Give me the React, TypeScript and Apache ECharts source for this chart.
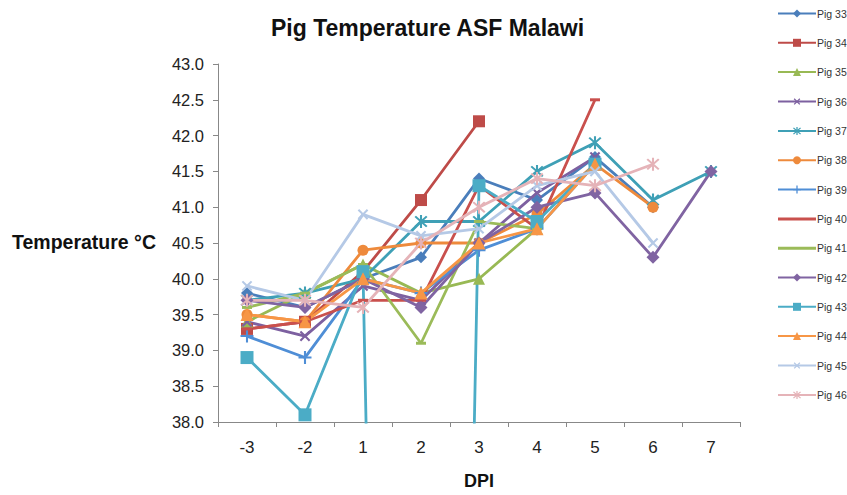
import React, { useEffect, useRef } from "react";
import * as echarts from "echarts";

const categories = ["-3", "-2", "1", "2", "3", "4", "5", "6", "7"];
const seriesNames = ["Pig 33", "Pig 34", "Pig 35", "Pig 36", "Pig 37", "Pig 38", "Pig 39", "Pig 40", "Pig 41", "Pig 42", "Pig 43", "Pig 44", "Pig 45", "Pig 46"];

const pig33 = [39.8, 39.6, 40.0, 40.3, 41.4, 41.1, 41.7, 41.0, null];
const pig34 = [39.3, 39.4, 40.1, 41.1, 42.2, null, null, null, null];
const pig35 = [39.4, 39.8, 40.2, 39.8, 40.0, 40.7, null, null, null];
const pig36 = [39.4, 39.2, 39.9, 39.7, 40.5, 41.2, 41.7, null, null];
const pig37 = [39.7, 39.8, 40.0, 40.8, 40.8, 41.5, 41.9, 41.1, 41.5];
const pig38 = [39.5, 39.4, 40.4, 40.5, 40.5, 40.9, 41.6, 41.0, null];
const pig39 = [39.2, 38.9, 40.0, 39.8, 40.4, 40.7, 41.6, null, null];
const pig40 = [39.3, 39.4, 39.7, 39.7, 41.3, 40.7, 42.5, null, null];
const pig41 = [39.6, 39.8, 40.2, 39.1, 40.8, 40.7, null, null, null];
const pig42 = [39.7, 39.6, 40.0, 39.6, 40.5, 41.0, 41.2, 40.3, 41.5];
const pig43 = [38.9, 38.1, 40.1, 0, 41.3, 40.8, 41.6, null, null];
const pig44 = [39.5, 39.4, 40.0, 39.8, 40.5, 40.7, 41.6, null, null];
const pig45 = [39.9, 39.7, 40.9, 40.6, 40.7, 41.3, 41.5, 40.5, null];
const pig46 = [39.7, 39.7, 39.6, 40.5, 41.0, 41.4, 41.3, 41.6, null];

const allData = [pig33, pig34, pig35, pig36, pig37, pig38, pig39, pig40, pig41, pig42, pig43, pig44, pig45, pig46];

const colors = ["#4A7EBB", "#BE4B48", "#98B954", "#7D60A0", "#3FA0B6", "#EE8A3C", "#4F8ED6", "#C9504D", "#9BBB59", "#8064A2", "#4BACC6", "#F79646", "#B5C9E6", "#E5B3B8"];

const PLUS = "path://M4.2,0H5.8V4.2H10V5.8H5.8V10H4.2V5.8H0V4.2H4.2Z";
const STAR = "path://M4.3,0H5.7V10H4.3Z M0.6,1.6L1.6,0.6L9.4,8.4L8.4,9.4Z M8.4,0.6L9.4,1.6L1.6,9.4L0.6,8.4Z";
const LINE_ICON = "path://M0,0H38V3H0Z";

const markers: any[] = [
  { symbol: "diamond", size: 12 },
  { symbol: "rect", size: 12 },
  { symbol: "triangle", size: 12 },
  { symbol: PLUS, size: 13, rotate: 45 },
  { symbol: STAR, size: 13 },
  { symbol: "circle", size: 11 },
  { symbol: PLUS, size: 13 },
  { symbol: "rect", size: [10, 3] },
  { symbol: "rect", size: [10, 3] },
  { symbol: "diamond", size: 13 },
  { symbol: "rect", size: 13 },
  { symbol: "triangle", size: 13 },
  { symbol: PLUS, size: 13, rotate: 45 },
  { symbol: STAR, size: 13 },
];

export default function App() {
  const ref = useRef<HTMLDivElement>(null);
  useEffect(() => {
    if (!ref.current) return;
    const chart = echarts.init(ref.current, undefined, { renderer: "svg" });
    const font = "Liberation Sans";
    chart.setOption({
      animation: false,
      backgroundColor: "#ffffff",
      title: {
        text: "Pig Temperature ASF Malawi",
        left: 266,
        top: 11,
        textStyle: { fontFamily: font, fontSize: 23, fontWeight: "bold", color: "#111" },
      },
      legend: {
        orient: "vertical",
        left: 772,
        top: 3,
        itemWidth: 38,
        itemHeight: 10,
        itemGap: 18.3,
        data: seriesNames.map((n, i) => (i === 7 || i === 8 ? { name: n, icon: LINE_ICON } : { name: n })),
        textStyle: { fontFamily: font, fontSize: 10.5, color: "#333", padding: [0, 0, 0, -4] },
      },
      graphic: [
        {
          type: "text",
          left: 12,
          top: 232,
          style: { text: "Temperature °C", fontFamily: font, fontSize: 19.5, fontWeight: "bold", fill: "#111" },
        },
      ],
      grid: { left: 218, right: 107, top: 64, bottom: 71 },
      xAxis: {
        type: "category",
        data: categories,
        boundaryGap: true,
        name: "DPI",
        nameLocation: "middle",
        nameGap: 50,
        nameTextStyle: { fontFamily: font, fontSize: 18, fontWeight: "bold", color: "#111" },
        axisLine: { lineStyle: { color: "#888", width: 1 } },
        axisTick: { show: true, alignWithLabel: false, length: 5, lineStyle: { color: "#888" } },
        axisLabel: { fontFamily: font, fontSize: 17, color: "#222", margin: 17 },
        splitLine: { show: false },
      },
      yAxis: {
        type: "value",
        min: 38,
        max: 43,
        interval: 0.5,
        axisLine: { show: true, lineStyle: { color: "#888", width: 1 } },
        axisTick: { show: true, length: 5, lineStyle: { color: "#888" } },
        axisLabel: { fontFamily: font, fontSize: 16.5, color: "#222", margin: 14, formatter: (v: number) => v.toFixed(1) },
        splitLine: { show: false },
      },
      series: allData.map((d, i) => ({
        name: seriesNames[i],
        type: "line",
        data: d,
        color: colors[i],
        symbol: markers[i].symbol,
        symbolSize: markers[i].size,
        symbolRotate: markers[i].rotate || 0,
        showSymbol: true,
        showAllSymbol: true,
        connectNulls: false,
        clip: true,
        lineStyle: { width: 2.8, color: colors[i] },
        itemStyle: { color: colors[i] },
      })),
    });
    return () => chart.dispose();
  }, []);
  return <div ref={ref} style={{ position: "fixed", left: 0, top: 0, width: 847, height: 495 }} />;
}
